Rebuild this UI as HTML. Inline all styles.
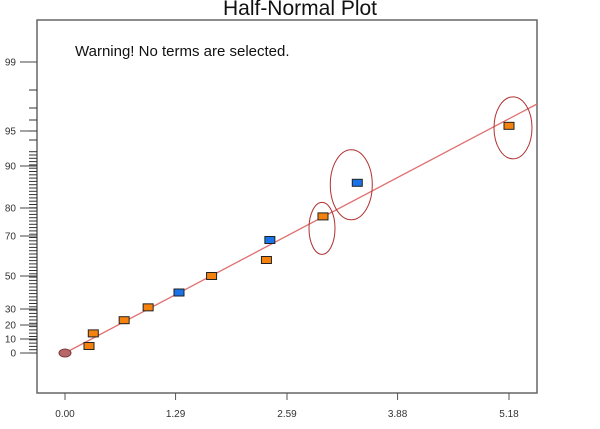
<!DOCTYPE html>
<html><head><meta charset="utf-8"><style>
body{margin:0;background:#fff;}
svg{display:block;font-family:"Liberation Sans",Arial,sans-serif;}
</style></head><body>
<svg id="chart" width="600" height="429" viewBox="0 0 600 429">
<text x="300" y="15" text-anchor="middle" font-size="21" fill="#111">Half-Normal Plot</text>
<rect x="37" y="20" width="500" height="373" fill="#fff" stroke="#666" stroke-width="1.5"/>
<text x="75" y="56" font-size="15" fill="#111">Warning! No terms are selected.</text>
<g id="axes"></g>
<g id="marks"></g>
</svg>
<script>
const xTicks=[0,1.29,2.59,3.88,5.18];
const xTickLabels=["0.00","1.29","2.59","3.88","5.18"];
const yTickValues=[0,10,20,30,50,70,80,90,95,99];
const yTickLabels=["0","10","20","30","50","70","80","90","95","99"];
const effects=[0,0.28,0.33,0.69,0.97,1.33,1.71,2.35,2.39,3.01,3.41,5.18];
const probabilities=[0,5,14,23,31,40,50,58,68,77,86,95.3];
const pointColors=["none","orange","orange","orange","orange","blue","orange","orange","blue","orange","blue","orange"];
const circled=[9,10,11];
const fitEnd=[5.5,96.5];

function X(v){return 65+(v/5.18)*(509-65);}
const yPix=[353,339,325,309,276,236,208,166,131,62];
function Y(p){
  for(let i=0;i<yTickValues.length-1;i++){
    if(p<=yTickValues[i+1]){const a=yTickValues[i],b=yTickValues[i+1];return yPix[i]+(p-a)/(b-a)*(yPix[i+1]-yPix[i]);}
  }
  return yPix[yPix.length-1];
}
const NS="http://www.w3.org/2000/svg";
function mk(tag,attrs,parent){const e=document.createElementNS(NS,tag);for(const k in attrs)e.setAttribute(k,attrs[k]);parent.appendChild(e);return e;}
const axes=document.getElementById('axes'),marks=document.getElementById('marks');

xTicks.forEach((v,i)=>{
  const t=mk('line',{x1:X(v),x2:X(v),y1:393,y2:400,stroke:'#555'},axes);
  
  
  const l=mk('text',{x:X(v),y:417,'text-anchor':'middle','font-size':'10',fill:'#333'},axes);
  l.textContent=xTickLabels[i];
  
  
});
yTickValues.forEach((v,i)=>{
  const t=mk('line',{x1:20,x2:37,y1:Y(v),y2:Y(v),stroke:'#444'},axes);
  
  
  const l=mk('text',{x:16,y:Y(v)+3.5,'text-anchor':'end','font-size':'10',fill:'#333'},axes);
  l.textContent=yTickLabels[i];
  
  
});
const minor=[];
for(let y=353;y>=150;y-=3.3)minor.push(y);
[140,131,120,108,90].forEach(y=>minor.push(y));
minor.forEach(y=>{
  const t=mk('line',{x1:29,x2:37,y1:y,y2:y,stroke:'#333','stroke-width':'1'},axes);
  
  
});

const fl=mk('line',{x1:X(0),y1:Y(0),x2:537,y2:104,stroke:'#e07070','stroke-width':'1.3'},marks);



const circleSizes={9:[13,26,-1,12],10:[21,35,-6,2],11:[19,31,4,2]};
circled.forEach(i=>{
  const s=circleSizes[i];
  const c=mk('ellipse',{cx:X(effects[i])+s[2],cy:Y(probabilities[i])+s[3],rx:s[0],ry:s[1],fill:'none',stroke:'#b03030','stroke-width':'1'},marks);
  
  
});

effects.forEach((v,i)=>{
  const x=X(v),y=Y(probabilities[i]);
  if(pointColors[i]==='none'){
    const e=mk('ellipse',{cx:x,cy:y,rx:6,ry:4,fill:'#b86868',stroke:'#7a3a3a'},marks);
    
    
  }else{
    const r=mk('rect',{x:x-5,y:y-3.5,width:10,height:7,fill:pointColors[i]==='blue'?'#1a73e8':'#f5820f',stroke:'#222','stroke-width':'1'},marks);
    
    
  }
});
</script>
</body></html>
